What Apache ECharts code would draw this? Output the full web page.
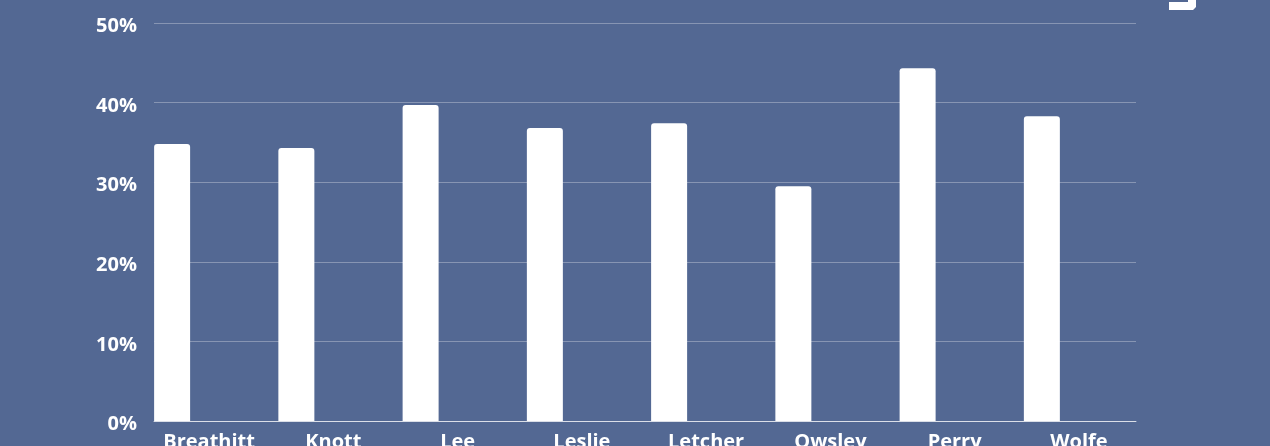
<!DOCTYPE html>
<html>
<head>
<meta charset="utf-8">
<style>
html,body{margin:0;padding:0;background:#536893;}
#chart{width:1270px;height:446px;}
</style>
<script src="https://cdn.jsdelivr.net/npm/echarts@6/dist/echarts.min.js"></script>
</head>
<body>
<div id="chart"></div>
<script>
const categories = ['Breathitt', 'Knott', 'Lee', 'Leslie', 'Letcher', 'Owsley', 'Perry', 'Wolfe'];
const values = [34.8, 34.3, 39.7, 36.8, 37.4, 29.5, 44.3, 38.3];
const yTicks = [0, 10, 20, 30, 40, 50];

const chart = echarts.init(document.getElementById('chart'), null, {renderer: 'canvas'});
const font = '"Open Sans", sans-serif';
chart.setOption({
  backgroundColor: '#536893',
  animation: false,
  grid: [
    {left: 147, right: 129, top: 23, bottom: 25, containLabel: false, outerBoundsMode: 'none'},
    {left: 154, right: 134, top: 23, bottom: 25, containLabel: false, outerBoundsMode: 'none'}
  ],
  xAxis: [
    {
      type: 'category', gridIndex: 0, data: categories,
      axisLine: {show: false}, axisTick: {show: false},
      axisLabel: {color: '#ffffff', fontFamily: font, fontWeight: 'bold', fontSize: 20, margin: 11}
    },
    {
      type: 'category', gridIndex: 1, data: categories,
      axisLine: {show: true, lineStyle: {color: 'rgba(255,255,255,0.7)', width: 1}},
      axisTick: {show: false}, axisLabel: {show: false}
    }
  ],
  yAxis: [
    {
      type: 'value', gridIndex: 0, min: 0, max: 50, interval: 10,
      axisLabel: {show: false}, splitLine: {show: false}, axisLine: {show: false}
    },
    {
      type: 'value', gridIndex: 1, min: yTicks[0], max: yTicks[yTicks.length - 1], interval: 10,
      axisLine: {show: false}, axisTick: {show: false},
      splitLine: {lineStyle: {color: 'rgba(255,255,255,0.3)', width: 1}},
      axisLabel: {
        color: '#ffffff', fontFamily: font, fontWeight: 'bold', fontSize: 20, margin: 17,
        formatter: v => '{a|' + v + '%}',
        rich: {a: {color: '#ffffff', fontFamily: font, fontWeight: 'bold', fontSize: 20, padding: [7, 0, 0, 0]}}
      }
    }
  ],
  series: [
    {
      type: 'bar', xAxisIndex: 0, yAxisIndex: 0, data: values,
      barWidth: 36, barGap: '105.6%',
      itemStyle: {color: '#ffffff', borderRadius: [3, 3, 0, 0]}
    },
    {
      type: 'bar', xAxisIndex: 0, yAxisIndex: 0, data: categories.map(() => '-'),
      barWidth: 36, itemStyle: {color: '#ffffff'}
    }
  ],
  graphic: [
    {type: 'polygon', shape: {points: [[1169, 2], [1188, 2], [1188, -1], [1196, -1], [1196, 7], [1193, 10], [1169, 10]]}, style: {fill: '#ffffff'}}
  ]
});
</script>
</body>
</html>
